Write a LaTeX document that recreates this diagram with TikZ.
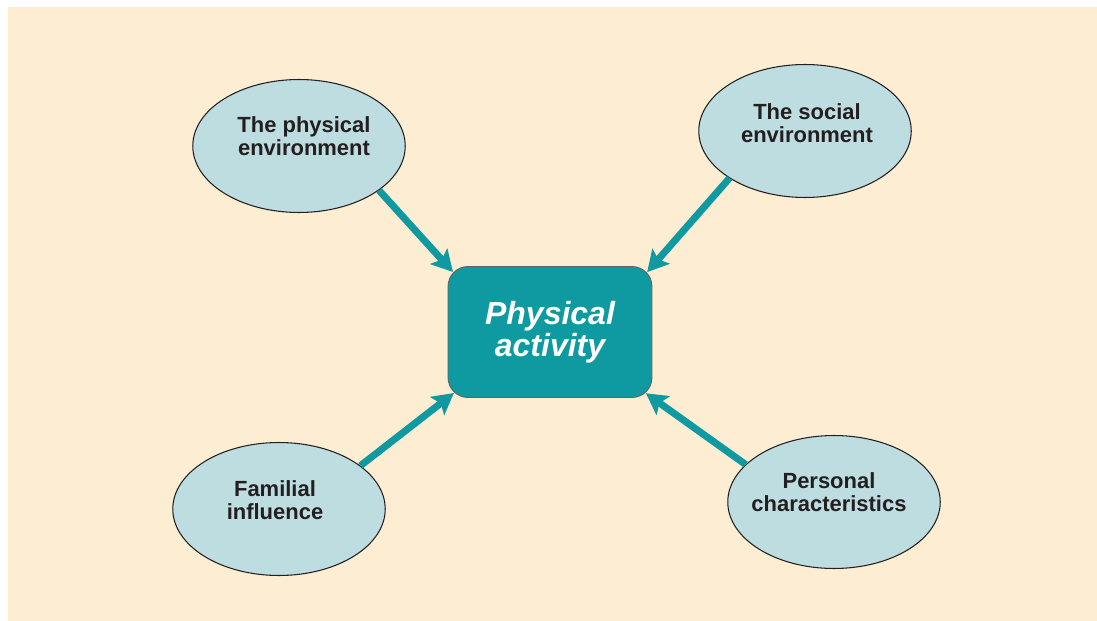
\documentclass[tikz,border=0pt]{standalone}
\usepackage{fontspec}
\setmainfont{Liberation Sans}
\usetikzlibrary{arrows.meta}
\usetikzlibrary{shapes.geometric}

\definecolor{bgcream}{HTML}{FDEDD3}
\definecolor{ovalblue}{HTML}{BDDDE0}
\definecolor{tealbox}{HTML}{0E9AA0}
\definecolor{inkdark}{HTML}{231F20}

\tikzset{
  factor/.style={ellipse, draw=inkdark, line width=0.6pt, fill=ovalblue,
    minimum width=4.25cm, minimum height=2.66cm, inner sep=0pt},
  factortext/.style={align=center, text=inkdark,
    font=\fontsize{12.5}{12.8}\selectfont\bfseries},
  hub/.style={rectangle, rounded corners=0.4cm, draw=inkdark!70, line width=0.5pt,
    fill=tealbox, minimum width=4.08cm, minimum height=2.62cm, align=center,
    text=white, font=\fontsize{18.2}{18.2}\selectfont\bfseries\itshape},
  influence/.style={draw=tealbox, line width=4pt,
    -{Stealth[length=12pt, width=13pt, inset=2.5pt]}, shorten >=-0.16cm}
}

\begin{document}
\begin{tikzpicture}[x=0.02cm, y=-0.02cm]
      \useasboundingbox (0,0) rectangle (1097,621);
      \fill[bgcream] (8,7) rectangle (1097,621);

      \node[hub] (pa) at (550,332) {Physical\\activity};

      \node[factor] (pe) at (299,146) {};
      \node[factortext] (pe-txt) at (304,136) {The physical\\environment};
      \node[factor] (se) at (805,131) {};
      \node[factortext] (se-txt) at (807,123) {The social\\environment};
      \node[factor] (fi) at (279,509) {};
      \node[factortext] (fi-txt) at (275,500) {Familial\\influence};
      \node[factor] (pc) at (834,502) {};
      \node[factortext] (pc-txt) at (829,492) {Personal\\characteristics};

      \draw[influence] (pe.-29) -- (pa.north west);
      \draw[influence] (se.-148) -- (pa.north east);
      \draw[influence] (fi.28) -- (pa.south west);
      \draw[influence] (pc.157) -- (pa.south east);
    \end{tikzpicture}
\end{document}
